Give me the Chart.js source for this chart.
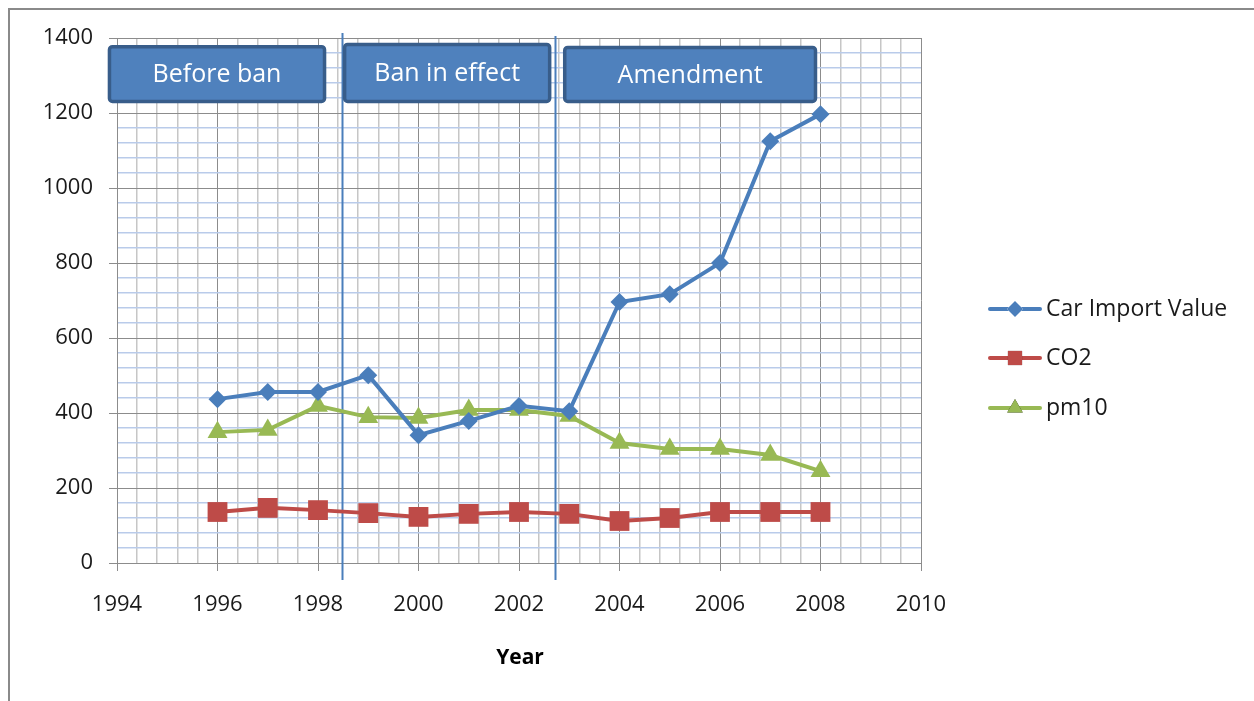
<!DOCTYPE html>
<html>
<head>
<meta charset="utf-8">
<script src="https://cdn.jsdelivr.net/npm/chart.js@4/dist/chart.umd.min.js"></script>
<style>
  html, body { margin: 0; padding: 0; background: #fff; }
  #wrap { position: relative; width: 1254px; height: 701px; }
</style>
</head>
<body>
<div id="wrap"><canvas id="chart" width="1254" height="701"></canvas></div>
<script>
// years on the x axis
const years = [1996, 1997, 1998, 1999, 2000, 2001, 2002, 2003, 2004, 2005, 2006, 2007, 2008];

// series values
const carImport = [437, 456, 456, 501, 341, 379, 419, 405, 696, 717, 800, 1125, 1197];
const co2 = [136, 147, 141, 133, 123, 131, 136, 131, 112, 120, 136, 136, 136];
const pm10 = [349, 355, 419, 389, 387, 408, 408, 392, 320, 304, 304, 288, 245];

// axis ranges and label steps
const xMin = 1994, xMax = 2010, xMinor = 0.4, xMajor = 2;
const yMin = 0, yMax = 1400, yMinor = 40, yMajor = 200;

// period separators and header boxes (data coordinates)
const separators = [1998.48, 2002.72];
const periods = [
  { label: 'Before ban', x0: 1993.82, x1: 1998.16, y0: 1227, y1: 1381 },
  { label: 'Ban in effect', x0: 1998.50, x1: 2002.64, y0: 1227, y1: 1387 },
  { label: 'Amendment', x0: 2002.88, x1: 2007.93, y0: 1227, y1: 1379 },
];

const BLUE = '#4a7ebb', RED = '#be4b48', GREEN = '#98b954';
const FONT = '"Open Sans", "Noto Sans", sans-serif';

const isMult = (v, step) => {
  const q = v / step;
  return Math.abs(q - Math.round(q)) < 1e-6;
};

const toPts = arr => arr.map((v, i) => ({ x: years[i], y: v }));

// frame, separators, period boxes, legend, axis title
const decor = {
  id: 'decor',
  beforeDraw(chart) {
    const ctx = chart.ctx;
    ctx.save();
    ctx.fillStyle = '#fff';
    ctx.fillRect(0, 0, chart.width, chart.height);
    ctx.strokeStyle = '#8a8a8a';
    ctx.lineWidth = 2;
    ctx.strokeRect(9, 9, 1300, 720);
    ctx.restore();
  },
  beforeDatasetsDraw(chart) {
    const { ctx, scales: { x, y } } = chart;
    ctx.save();
    ctx.strokeStyle = BLUE;
    ctx.lineWidth = 2;
    separators.forEach((s, i) => {
      const px = Math.round(x.getPixelForValue(s)) + 0.5;
      ctx.beginPath();
      ctx.moveTo(px, y.getPixelForValue(i === 0 ? 1408 : 1400) - 2);
      ctx.lineTo(px, y.getPixelForValue(-45));
      ctx.stroke();
    });
    ctx.restore();
  },
  afterDraw(chart) {
    const { ctx, scales: { x, y } } = chart;
    ctx.save();
    // period header boxes
    periods.forEach(p => {
      const l = x.getPixelForValue(p.x0), r = x.getPixelForValue(p.x1);
      const t = y.getPixelForValue(p.y1), b = y.getPixelForValue(p.y0);
      ctx.beginPath();
      ctx.roundRect(l + 1.5, t + 1.5, r - l - 3, b - t - 3, 3);
      ctx.fillStyle = '#4f81bd';
      ctx.fill();
      ctx.lineWidth = 3.5;
      ctx.strokeStyle = '#385d8a';
      ctx.stroke();
      ctx.fillStyle = '#fff';
      ctx.font = '25px ' + FONT;
      ctx.textAlign = 'center';
      ctx.textBaseline = 'middle';
      ctx.fillText(p.label, (l + r) / 2, (t + b) / 2 + 1);
    });

    // legend
    const items = [
      { label: 'Car Import Value', color: BLUE, style: 'rectRot', r: 8 },
      { label: 'CO2', color: RED, style: 'rect', r: 10 },
      { label: 'pm10', color: GREEN, style: 'triangle', r: 9 },
    ];
    const rows = [309, 358, 408];
    items.forEach((it, i) => {
      const cy = rows[i];
      ctx.strokeStyle = it.color;
      ctx.lineWidth = 4;
      ctx.lineCap = 'round';
      ctx.beginPath();
      ctx.moveTo(990, cy);
      ctx.lineTo(1040, cy);
      ctx.stroke();
      Chart.helpers.drawPoint(ctx, { pointStyle: it.style, radius: it.r, borderWidth: 0 }, 1015, cy);
      ctx.fillStyle = it.color;
      ctx.fill();
      ctx.fillStyle = '#1a1a1a';
      ctx.font = '23px ' + FONT;
      ctx.textAlign = 'left';
      ctx.textBaseline = 'middle';
      ctx.fillText(it.label, 1046, cy);
    });

    // x axis title
    ctx.fillStyle = '#000';
    ctx.font = 'bold 21px ' + FONT;
    ctx.textAlign = 'center';
    ctx.textBaseline = 'middle';
    ctx.fillText('Year', 520, 658);
    ctx.restore();
  }
};

const mkSet = (label, data, color, style, radius) => ({
  label,
  data: toPts(data),
  borderColor: color,
  backgroundColor: color,
  borderWidth: 4,
  pointStyle: style,
  pointRadius: radius,
  pointBorderWidth: 0,
  pointBackgroundColor: color,
  tension: 0,
});

new Chart(document.getElementById('chart'), {
  type: 'line',
  data: {
    datasets: [
      mkSet('Car Import Value', carImport, BLUE, 'rectRot', 9),
      mkSet('CO2', co2, RED, 'rect', 14),
      mkSet('pm10', pm10, GREEN, 'triangle', 11.5),
    ],
  },
  options: {
    responsive: false,
    animation: false,
    layout: { padding: { left: 0, right: 333, top: 38, bottom: 0 } },
    plugins: { legend: { display: false }, tooltip: { enabled: false } },
    scales: {
      x: {
        type: 'linear',
        min: xMin,
        max: xMax,
        afterBuildTicks(scale) {
          const t = [];
          for (let k = 0; k <= Math.round((xMax - xMin) / xMinor); k++) t.push({ value: xMin + k * xMinor });
          scale.ticks = t;
        },
        afterFit(scale) { scale.height = 138; },
        ticks: {
          autoSkip: false,
          maxRotation: 0,
          padding: 21,
          color: '#1a1a1a',
          font: { family: FONT, size: 22 },
          callback: v => (isMult(v - xMin, xMajor) ? String(Math.round(v)) : ''),
        },
        grid: {
          drawTicks: true,
          tickLength: 8,
          color: c => (isMult(c.tick.value - xMin, xMajor) ? '#8c8c8c' : '#c6c6c6'),
          lineWidth: c => (isMult(c.tick.value - xMin, xMajor) ? 1 : 1.5),
          tickColor: c => (isMult(c.tick.value - xMin, xMajor) ? '#8c8c8c' : 'rgba(0,0,0,0)'),
        },
        border: { color: '#8c8c8c', width: 1 },
      },
      y: {
        min: yMin,
        max: yMax,
        afterFit(scale) { scale.width = 117; },
        ticks: {
          stepSize: yMinor,
          autoSkip: false,
          padding: 16,
          color: '#1a1a1a',
          font: { family: FONT, size: 22 },
          callback: v => (isMult(v, yMajor) ? String(v) : ''),
        },
        grid: {
          tickLength: 8,
          color: c => (isMult(c.tick.value, yMajor) ? '#8c8c8c' : '#b9cbea'),
          lineWidth: c => (isMult(c.tick.value, yMajor) ? 1 : 1.6),
          tickColor: c => (isMult(c.tick.value, yMajor) ? '#8c8c8c' : 'rgba(0,0,0,0)'),
        },
        border: { color: '#8c8c8c', width: 1 },
      },
    },
  },
  plugins: [decor],
});
</script>
</body>
</html>
